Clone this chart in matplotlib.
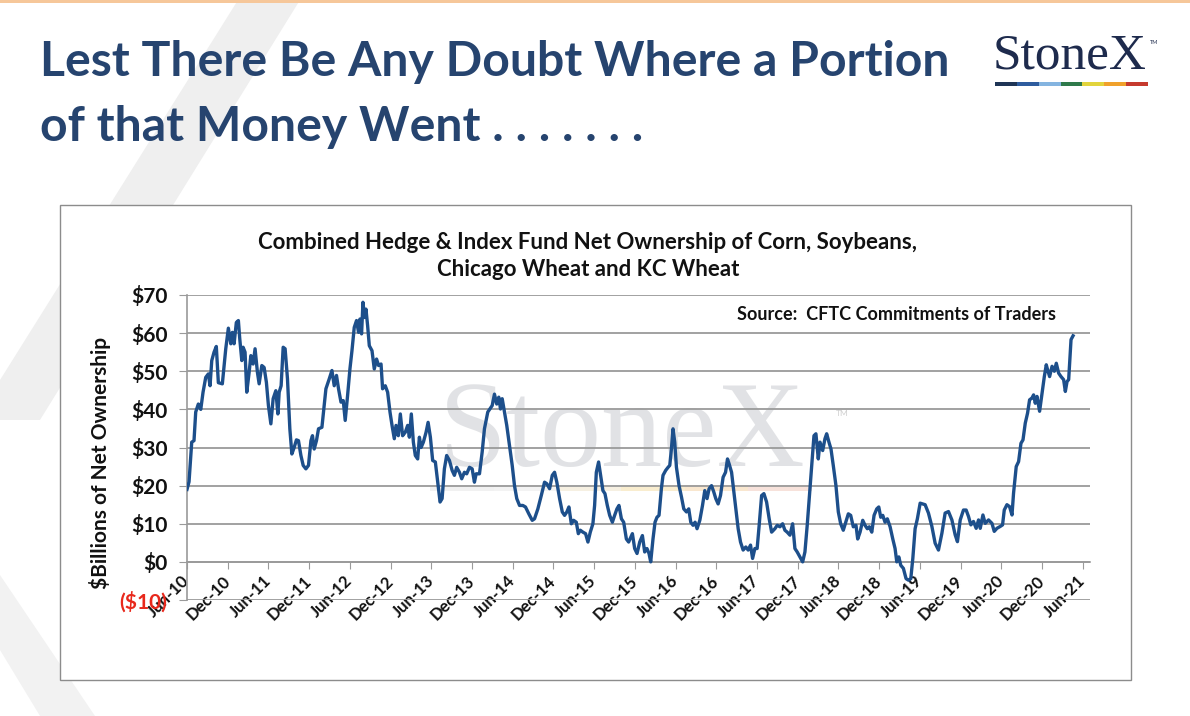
import numpy as np
import matplotlib
matplotlib.use('Agg')
import matplotlib.pyplot as plt
from matplotlib.patches import Rectangle, Polygon

plt.rcParams['font.family'] = ['Lato', 'DejaVu Sans']

# ---------------- data ----------------
years_since_jun2010 = [
    0.000, 0.025, 0.058, 0.086, 0.107, 0.139, 0.169, 0.197, 0.230, 0.262, 0.283, 0.304, 0.332, 0.360,
    0.385, 0.434, 0.476, 0.508, 0.538, 0.557, 0.578, 0.606, 0.631, 0.648, 0.673, 0.689, 0.713, 0.734,
    0.763, 0.784, 0.812, 0.836, 0.865, 0.886, 0.919, 0.947, 0.975, 1.000, 1.030, 1.058, 1.091, 1.116,
    1.132, 1.156, 1.181, 1.205, 1.234, 1.263, 1.288, 1.316, 1.344, 1.369, 1.399, 1.427, 1.460, 1.492,
    1.522, 1.541, 1.562, 1.590, 1.615, 1.657, 1.685, 1.706, 1.747, 1.780, 1.808, 1.836, 1.861, 1.891,
    1.919, 1.943, 1.972, 2.001, 2.026, 2.054, 2.082, 2.107, 2.124, 2.144, 2.161, 2.181, 2.198, 2.218,
    2.239, 2.272, 2.300, 2.328, 2.353, 2.383, 2.402, 2.435, 2.464, 2.493, 2.518, 2.546, 2.567, 2.595,
    2.620, 2.648, 2.681, 2.710, 2.731, 2.755, 2.780, 2.804, 2.833, 2.854, 2.875, 2.903, 2.936, 2.961,
    2.989, 3.017, 3.050, 3.079, 3.108, 3.133, 3.161, 3.189, 3.223, 3.256, 3.284, 3.312, 3.346, 3.374,
    3.407, 3.435, 3.469, 3.502, 3.530, 3.551, 3.592, 3.625, 3.653, 3.694, 3.748, 3.776, 3.804, 3.829,
    3.850, 3.871, 3.899, 3.927, 3.961, 3.994, 4.022, 4.050, 4.084, 4.124, 4.157, 4.198, 4.240, 4.268,
    4.309, 4.351, 4.391, 4.419, 4.453, 4.486, 4.514, 4.542, 4.576, 4.609, 4.637, 4.665, 4.690, 4.720,
    4.748, 4.781, 4.806, 4.830, 4.862, 4.895, 4.924, 4.953, 4.985, 5.006, 5.027, 5.055, 5.080, 5.108,
    5.133, 5.162, 5.191, 5.224, 5.252, 5.280, 5.305, 5.335, 5.363, 5.396, 5.424, 5.470, 5.498, 5.527,
    5.560, 5.593, 5.621, 5.649, 5.674, 5.695, 5.723, 5.748, 5.772, 5.797, 5.826, 5.846, 5.879, 5.908,
    5.929, 5.949, 5.969, 5.990, 6.011, 6.043, 6.073, 6.101, 6.134, 6.162, 6.187, 6.215, 6.240, 6.264,
    6.298, 6.331, 6.359, 6.387, 6.412, 6.442, 6.470, 6.494, 6.523, 6.552, 6.584, 6.614, 6.638, 6.658,
    6.688, 6.716, 6.740, 6.769, 6.798, 6.830, 6.863, 6.892, 6.921, 6.946, 6.974, 7.002, 7.027, 7.057,
    7.085, 7.118, 7.150, 7.180, 7.220, 7.249, 7.282, 7.315, 7.343, 7.371, 7.405, 7.438, 7.466, 7.494,
    7.528, 7.561, 7.589, 7.617, 7.651, 7.679, 7.700, 7.724, 7.753, 7.774, 7.807, 7.835, 7.856, 7.884,
    7.909, 7.937, 7.970, 7.999, 8.028, 8.060, 8.090, 8.122, 8.151, 8.183, 8.216, 8.237, 8.266, 8.299,
    8.327, 8.355, 8.380, 8.410, 8.438, 8.471, 8.496, 8.520, 8.545, 8.573, 8.601, 8.635, 8.668, 8.696,
    8.717, 8.742, 8.766, 8.798, 8.831, 8.860, 8.889, 8.914, 8.942, 8.970, 9.004, 9.065, 9.106, 9.148,
    9.188, 9.229, 9.271, 9.311, 9.352, 9.394, 9.434, 9.462, 9.496, 9.536, 9.569, 9.598, 9.627, 9.659,
    9.692, 9.721, 9.742, 9.775, 9.803, 9.844, 9.886, 9.914, 9.947, 9.988, 10.016, 10.037, 10.070, 10.102,
    10.132, 10.151, 10.184, 10.213, 10.242, 10.267, 10.295, 10.323, 10.348, 10.378, 10.397, 10.418, 10.439, 10.471,
    10.501, 10.529, 10.553, 10.569, 10.594, 10.624, 10.652, 10.676, 10.705, 10.734, 10.766, 10.787, 10.808, 10.828,
    10.857, 10.882,
]

net_ownership_bn = [
    19, 21, 31.4, 31.8, 39.3, 41.4, 40, 44.5, 48.4, 49.3, 46.2, 52.8, 55, 56.5,
    47, 46.7, 55.9, 61.3, 57.2, 60.2, 57.2, 62.8, 63.3, 58.5, 52.8, 56.3, 55, 44.5,
    49.7, 54.1, 51.9, 55.9, 49.7, 46.7, 51.5, 51, 47.1, 41, 36.2, 42.8, 44.9, 38.8,
    44.5, 46.2, 56.3, 55.9, 48, 34.9, 28.3, 30, 32, 31.8, 27.9, 25.3, 24.4, 25.3,
    31.8, 33.1, 29.6, 31.8, 34.9, 35.3, 41, 45.4, 48, 50.2, 46.2, 48.9, 45.4, 41.9,
    42.3, 37.1, 43.6, 50.6, 55.4, 61.5, 63.3, 60.2, 63.7, 59.8, 68.1, 64.1, 66.3, 62,
    56.7, 55.4, 50.6, 53.2, 51.5, 51.9, 45.4, 46.2, 44.5, 39.3, 35.8, 32.3, 35.8, 33.1,
    38.8, 33.1, 34, 35.8, 32.7, 38.8, 31.4, 27.9, 27, 32.7, 30, 31.4, 34, 36.6,
    32.7, 26.6, 26.2, 20.9, 15.7, 16.6, 24.4, 27.9, 26.6, 24, 22.7, 24.8, 23.5, 21.8,
    23.5, 23.1, 24.8, 24.4, 20.9, 23.1, 23.1, 28.8, 34.9, 39.3, 41, 44, 41.4, 43.2,
    40.1, 42.8, 39.3, 35.8, 30.5, 25.3, 20, 16.6, 14.8, 14.8, 14.4, 12.6, 10.9, 11.3,
    13.9, 17.4, 20.9, 20.5, 19.2, 22.7, 23.5, 20.9, 16.6, 13.1, 12.2, 13.1, 14.4, 10,
    10.9, 10.4, 7.4, 8.3, 7.8, 7.4, 5.2, 7.8, 10, 14.8, 23.5, 26.2, 22.7, 18.7,
    17.9, 14.8, 12.2, 10.4, 12.2, 13.9, 14.8, 11.3, 10.4, 6, 5.2, 7.4, 3.5, 2.2,
    5.2, 6.9, 2.6, 3.5, 2.2, 0, 6, 10.4, 11.7, 12.2, 19.2, 22.7, 24, 24.8,
    25.3, 29.6, 34.9, 31.4, 24.8, 20, 17, 13.9, 13.1, 13.9, 10.4, 9.6, 10.4, 8.7,
    10.9, 14.8, 18.7, 16.6, 19.2, 20, 18.3, 16.6, 15.2, 17.4, 22.2, 23.5, 27, 25.7,
    23.5, 18.3, 13.9, 8.7, 5.2, 3.1, 3.9, 3.1, 4.4, 0.9, 3.5, 3.5, 9.6, 17.4,
    17.9, 15.7, 11.3, 7.8, 8.7, 9.6, 9.2, 10, 8.3, 7.8, 7, 10, 3.5, 2.6,
    1.3, 0, 2.6, 9.6, 19.2, 27, 33.1, 33.6, 27, 31.4, 29.2, 32.3, 33.6, 31.4,
    29.6, 25.3, 20, 13.1, 10, 8.3, 10.4, 12.6, 12.2, 9.2, 9.6, 6, 7.8, 10.9,
    9.6, 8.7, 9.2, 7.8, 12.2, 13.9, 14.4, 11.7, 12.2, 10.4, 11.3, 9.2, 6, 3.5,
    0, 1.3, -0.9, -1.7, -4.4, -4.8, -4.4, 0.9, 8.7, 11.3, 15.4, 15, 12.8, 9.3,
    4.9, 3.1, 7.5, 12.8, 13.2, 11, 7.1, 5.3, 11, 13.6, 13.6, 11.9, 9.7, 10.6,
    8.8, 11, 8.8, 12.3, 10.1, 11, 10.1, 8, 8.8, 9.3, 9.7, 13.6, 15, 14.5,
    12.3, 18, 25, 26.3, 31.1, 32, 36.4, 39, 42.5, 43, 43.8, 41.6, 43.4, 39.5,
    44.3, 48.6, 51.7, 50.4, 48.6, 51.3, 50, 52.1, 49.5, 48.6, 47.8, 44.7, 47.3, 47.8,
    58.3, 59.3,
]

x_tick_labels = ['Jun-10', 'Dec-10', 'Jun-11', 'Dec-11', 'Jun-12', 'Dec-12', 'Jun-13', 'Dec-13',
                 'Jun-14', 'Dec-14', 'Jun-15', 'Dec-15', 'Jun-16', 'Dec-16', 'Jun-17', 'Dec-17',
                 'Jun-18', 'Dec-18', 'Jun-19', 'Dec-19', 'Jun-20', 'Dec-20', 'Jun-21']
y_tick_values = [-10, 0, 10, 20, 30, 40, 50, 60, 70]
y_tick_labels = ['($10)', '$0', '$10', '$20', '$30', '$40', '$50', '$60', '$70']

title_lines = ['Lest There Be Any Doubt Where a Portion', 'of that Money Went . . . . . . .']
chart_title = 'Combined Hedge & Index Fund Net Ownership of Corn, Soybeans,\nChicago Wheat and KC Wheat'
source_text = 'Source:  CFTC Commitments of Traders'
y_label = '$Billions of Net Ownership'

# ---------------- figure ----------------
W, H = 1190, 716
fig = plt.figure(figsize=(W / 100, H / 100), dpi=100)
fig.patch.set_facecolor('white')


def fx(px):
    return px / W


def fy(py):
    return 1 - py / H


def fpoly(pts, **kw):
    p = Polygon([(fx(a), fy(b)) for a, b in pts], closed=True, transform=fig.transFigure, **kw)
    fig.patches.append(p)


# faint background bands of the slide
fpoly([(238, 0), (300, 0), (40, 420), (0, 420), (0, 380)], facecolor='#efefef', edgecolor='none', zorder=0)
fpoly([(0, 575), (0, 650), (40, 716), (95, 716)], facecolor='#f2f2f2', edgecolor='none', zorder=0)
fig.patches.append(Rectangle((0, fy(3)), 1, 3 / H, transform=fig.transFigure,
                             facecolor='#f6c79a', edgecolor='none', zorder=0))

# slide title
title_color = '#26446f'
fig.text(fx(40), fy(62), title_lines[0], fontsize=34.7, fontweight='bold', color=title_color,
         ha='left', va='center')
fig.text(fx(40), fy(127), title_lines[1], fontsize=34.7, fontweight='bold', color=title_color,
         ha='left', va='center')

# logo
fig.text(fx(1070), fy(56), 'StoneX', family=['Liberation Serif', 'DejaVu Serif'], fontsize=37,
         color='#1e2b4d', ha='center', va='center')
fig.text(fx(1154), fy(42), 'TM', fontsize=4, color='#1e2b4d', ha='center', va='center')
bar_colors = ['#1f3556', '#2e5c9e', '#84b4e0', '#2f7a4b', '#e2d43c', '#f0a12b', '#c63a2e']
seg = (1148 - 995) / len(bar_colors)
for i, c in enumerate(bar_colors):
    fig.patches.append(Rectangle((fx(995 + i * seg), fy(86)), seg / W, 4 / H, transform=fig.transFigure,
                                 facecolor=c, edgecolor='none', zorder=1))

# chart frame
fig.patches.append(Rectangle((fx(60), fy(680)), (1131 - 60) / W, (680 - 205) / H, transform=fig.transFigure,
                             facecolor='white', edgecolor='#8c8c8c', linewidth=1.0, zorder=1))

fig.text(fx(588), fy(256), chart_title, fontsize=16, fontweight='bold', color='#111111',
         ha='center', va='center', linespacing=1.35, zorder=5)

# watermark
fig.text(fx(622), fy(436), 'StoneX', family=['Liberation Serif', 'DejaVu Serif'], fontsize=88,
         color='#b9bcc2', alpha=0.42, ha='center', va='center', zorder=2)
fig.text(fx(842), fy(414), 'TM', fontsize=6, color='#d0d0d0', ha='center', va='center', zorder=2)
wm_colors = ['#e8e8e8', '#ececec', '#f1e6cf', '#f6e2b0', '#f6d8b0', '#f3cfc4']
wseg = (812 - 430) / len(wm_colors)
for i, c in enumerate(wm_colors):
    fig.patches.append(Rectangle((fx(430 + i * wseg), fy(491)), wseg / W, 6 / H, transform=fig.transFigure,
                                 facecolor=c, edgecolor='none', zorder=2, alpha=0.6))

# axes
ax = fig.add_axes([fx(187), fy(600), (1090 - 187) / W, (600 - 295) / H])
ax.set_facecolor('none')
ax.set_zorder(3)

for s in ['top', 'right']:
    ax.spines[s].set_visible(False)
ax.spines['bottom'].set_position(('data', 0))
ax.spines['left'].set_color('#9a9a9a')
ax.spines['left'].set_linewidth(1.2)
ax.spines['bottom'].set_color('#9a9a9a')
ax.spines['bottom'].set_linewidth(1.2)

ax.plot(years_since_jun2010, net_ownership_bn, color='#1d4f8b', linewidth=2.4, solid_joinstyle='round',
        zorder=4)

ax.set_xlim(0, 11.09)
ax.set_ylim(-10, 70)
ax.set_yticks(y_tick_values)
ax.set_yticklabels(y_tick_labels, fontsize=15, fontweight='bold', color='#111111')
ax.get_yticklabels()[0].set_color('#e8281c')

ax.set_xticks([0.5 * i for i in range(len(x_tick_labels))])
ax.set_xticklabels(x_tick_labels, rotation=45, ha='right', va='center', rotation_mode='anchor',
                   fontsize=12, fontweight='bold', color='#111111')

ax.grid(axis='y', color='#9a9a9a', linewidth=1.3)
ax.set_axisbelow(True)
ax.tick_params(axis='y', length=6, color='#9a9a9a', pad=8)
ax.tick_params(axis='x', length=5, color='#9a9a9a', pad=7)

fig.text(fx(100), fy(463), y_label, fontsize=15, fontweight='bold', color='#111111',
         rotation=90, ha='center', va='center', zorder=6)

fig.text(fx(1056), fy(314), source_text, fontsize=13, fontweight='bold', color='#111111',
         ha='right', va='center', zorder=6)

fig.savefig('out.png', dpi=100)
